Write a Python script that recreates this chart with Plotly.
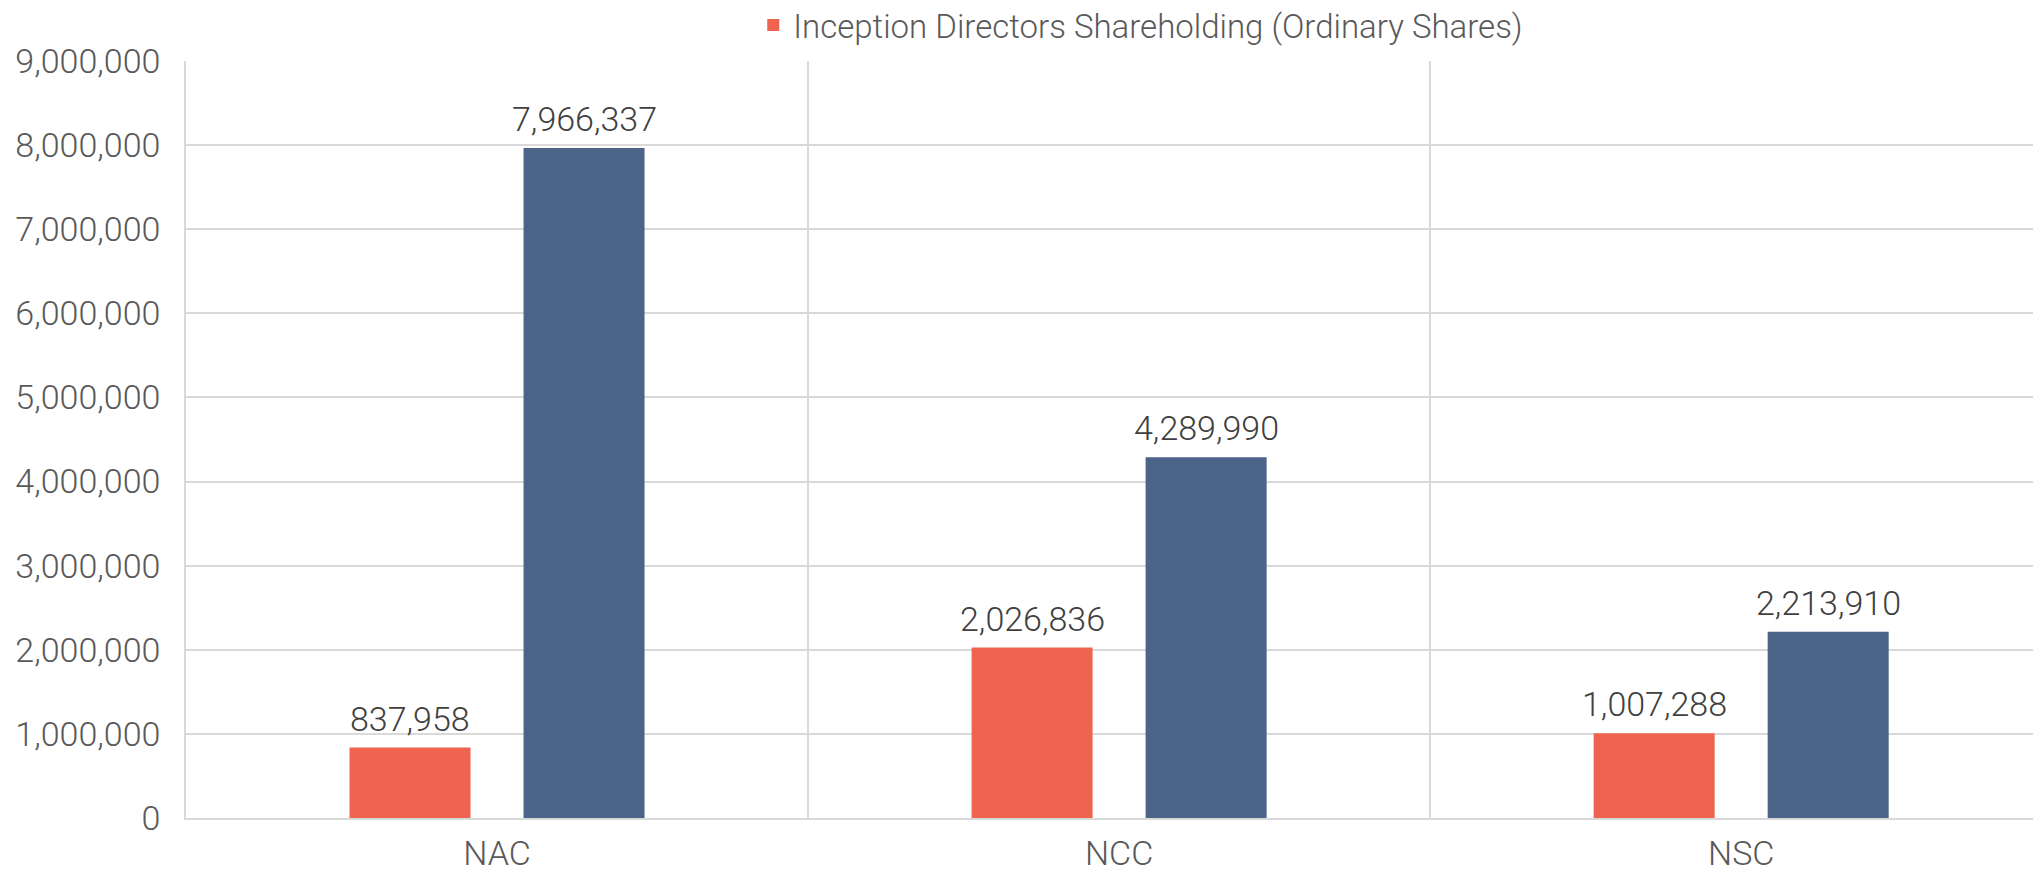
import plotly.graph_objects as go

categories = ["NAC", "NCC", "NSC"]
inception_values = [837958, 2026836, 1007288]
other_values = [7966337, 4289990, 2213910]
inception_name = "Inception Directors Shareholding (Ordinary Shares)"
other_name = "Directors Shareholding"
y_ticks = [0, 1000000, 2000000, 3000000, 4000000, 5000000, 6000000, 7000000, 8000000, 9000000]

RED = "#EE6450"
BLUE = "#4B6488"
FONT = "Roboto"
GRID = "#D9D9D9"
FS = 34
BARGAP = 0.4405
GROUPGAP = 0.3046

fig = go.Figure()
fig.add_trace(go.Bar(x=categories, y=inception_values, name=inception_name,
                     marker=dict(color=RED, line=dict(width=0)), showlegend=True))
fig.add_trace(go.Bar(x=categories, y=other_values, name=other_name,
                     marker=dict(color=BLUE, line=dict(width=0)), showlegend=False))

half = (1 - BARGAP) / 4
for i, v in enumerate(inception_values):
    fig.add_annotation(x=i - half, y=v, text=f"{v:,}", showarrow=False,
                       yanchor="bottom", yshift=7,
                       font=dict(family=FONT, size=FS, color="#404040", weight=300))
for i, v in enumerate(other_values):
    fig.add_annotation(x=i + half, y=v, text=f"{v:,}", showarrow=False,
                       yanchor="bottom", yshift=7,
                       font=dict(family=FONT, size=FS, color="#404040", weight=300))

fig.update_layout(
    width=2041, height=873,
    margin=dict(l=178, r=8, t=53, b=63, autoexpand=False),
    paper_bgcolor="white", plot_bgcolor="white",
    barmode="group", bargap=BARGAP, bargroupgap=GROUPGAP,
    font=dict(family=FONT, size=FS, color="#595959", weight=300),
    legend=dict(orientation="h", x=0.3058, xanchor="left",
                yref="container", y=1 - 17 / 873, yanchor="middle",
                font=dict(family=FONT, size=33, color="#595959", weight=300),
                bgcolor="rgba(0,0,0,0)"),
    xaxis=dict(type="category", range=[-0.5, 2.482], tickson="boundaries",
               automargin=False,
               showgrid=True, gridcolor=GRID, gridwidth=1.5,
               showline=True, linecolor=GRID, linewidth=1.5,
               ticks="outside", ticklen=21, tickcolor="rgba(0,0,0,0)",
               ticklabelstandoff=4,
               tickfont=dict(family=FONT, size=FS, color="#595959", weight=300)),
    yaxis=dict(range=[0, 9000000], tickvals=y_ticks, tickformat=",",
               automargin=False,
               showgrid=True, gridcolor=GRID, gridwidth=1.5, zeroline=False,
               showline=True, linecolor=GRID, linewidth=1.5,
               ticks="outside", ticklen=17, tickcolor="rgba(0,0,0,0)",
               tickfont=dict(family=FONT, size=FS, color="#595959", weight=300)),
)

fig.write_html("out.html")
